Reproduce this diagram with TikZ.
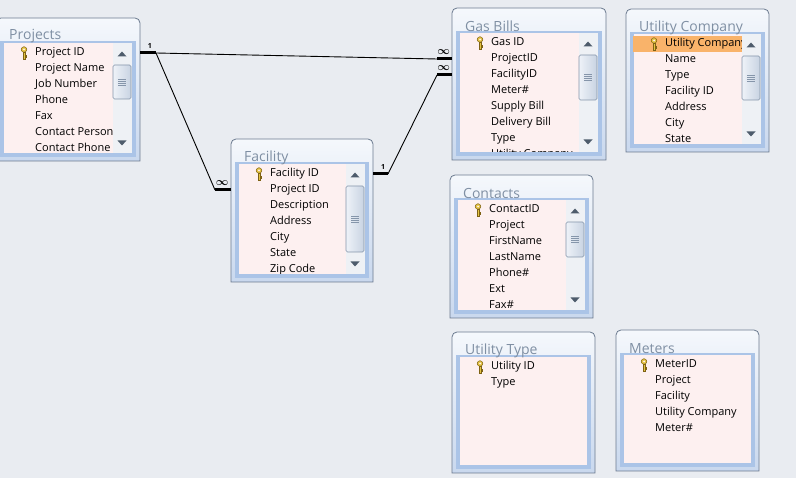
\documentclass[tikz,border=0pt]{standalone}
\usepackage{amsmath}
\usepackage{fontspec}
\setmainfont{Open Sans}
\usepackage{tikz}
\usetikzlibrary{calc}

\definecolor{deskbg}{HTML}{E9ECF1}
\definecolor{winedge}{HTML}{6B7A8F}
\definecolor{wintop}{HTML}{F5F8FC}
\definecolor{winbot}{HTML}{C9D8EE}
\definecolor{wininner}{HTML}{ABC4E7}
\definecolor{winpink}{HTML}{FDF0F0}
\definecolor{wintext}{HTML}{7F8FA3}
\definecolor{rowsel}{HTML}{F9B36A}
\definecolor{track}{HTML}{EEF1F5}
\definecolor{thumbA}{HTML}{EEF2F8}
\definecolor{thumbB}{HTML}{C8D3E2}
\definecolor{thumbedge}{HTML}{8595AA}
\definecolor{arrowgray}{HTML}{4E5C6C}
\definecolor{keygold}{HTML}{E6C443}
\definecolor{keyedge}{HTML}{7E6214}

\tikzset{
  winframe/.style={draw=winedge, line width=0.8pt, top color=wintop, bottom color=winbot},
  wintitle/.style={anchor=west, inner sep=0pt, text=wintext, font=\fontsize{14}{16}\selectfont},
  row/.style={anchor=west, inner sep=0pt, text height=8pt, text depth=2.5pt,
    font=\fontsize{11}{13}\selectfont},
  thumb/.style={draw=thumbedge, line width=0.6pt, rounded corners=1.5pt,
    left color=thumbA, right color=thumbB},
  grip/.style={draw=thumbedge, line width=0.5pt},
  scrollarrow/.style={fill=arrowgray},
  keyline/.style={draw=keyedge, fill=keygold, line width=0.5pt},
  rel/.style={draw=black, line width=0.9pt},
  relstub/.style={draw=black, line width=3pt},
  card/.style={inner sep=0pt, font=\fontsize{7}{7}\selectfont\bfseries},
  many/.style={inner sep=0pt, font=\fontsize{11}{11}\selectfont}
}

% table window: name, x0, y0, x1, y1, title, end of scroll thumb (0 = no scroll bar)
\newcommand{\accwin}[7]{%
  \coordinate (#1-nw) at (#2,#3);
  \coordinate (#1-se) at (#4,#5);
  \path[winframe] (#2,#5) -- (#2,#3+5) arc[start angle=180, end angle=270, radius=5]
    -- (#4-5,#3) arc[start angle=270, end angle=360, radius=5] -- (#4,#5) -- cycle;
  \fill[wininner] (#2+4,#3+23) rectangle (#4-4,#5-4);
  \fill[winpink] (#2+8,#3+25) rectangle (#4-8,#5-8);
  \node[wintitle] (#1-title) at (#2+13,#3+18.5) {#6};
  \ifnum#7>0
    \fill[track] (#4-27,#3+25) rectangle (#4-8,#5-8);
    \fill[scrollarrow] (#4-22.5,#3+38.5) -- (#4-13.5,#3+38.5) -- (#4-18,#3+33.5) -- cycle;
    \fill[scrollarrow] (#4-22.5,#5-20.5) -- (#4-13.5,#5-20.5) -- (#4-18,#5-15.5) -- cycle;
    \draw[thumb] (#4-27,#3+47) rectangle (#4-9,#3+#7);
    \foreach \g in {0,2,4,6}
      \draw[grip] (#4-22,{#3+(47+#7)/2+\g-3}) -- (#4-14,{#3+(47+#7)/2+\g-3});
  \fi
}

% field list: name, x0, y0, clip right, clip bottom, fields
\newcommand{\accrows}[6]{%
  \begin{scope}
    \clip (#2+8,#3+25) rectangle (#4,#5);
    \foreach \fld [count=\i] in {#6}
      \node[row] (#1-\i) at (#2+39,{#3+35+16*(\i-1)}) {\fld};
  \end{scope}
  % primary key
  \draw[keyline] (#2+28,#3+31.5) circle[radius=2.8pt];
  \fill[winpink] (#2+28,#3+31.5) circle[radius=1pt];
  \draw[keyline] (#2+27.2,#3+34.3) rectangle (#2+28.8,#3+41);
  \draw[keyline] (#2+28.8,#3+37.5) rectangle (#2+30.6,#3+38.9);
}

\begin{document}
\begin{tikzpicture}[x=1pt, y=-1pt]

    \useasboundingbox (0,0) rectangle (796,478);
    \clip (0,0) rectangle (796,478);
    \fill[deskbg] (0,0) rectangle (796,478);

    % Windows
    \accwin{proj}{-4}{18}{140}{161}{Projects}{81}
    \accwin{fac}{231}{139}{373}{282}{Facility}{113}
    \accwin{gas}{452}{8}{606}{160}{Gas Bills}{92}
    \accwin{uc}{626}{9}{769}{152}{Utility Company}{91}
    \accwin{cont}{450}{175}{593}{318}{Contacts}{82}
    \accwin{utype}{452}{332}{595}{473}{Utility Type}{0}
    \accwin{meter}{616}{330}{759}{471}{Meters}{0}

    % selected field
    \fill[rowsel] (633,36) rectangle (742,52);

    % Fields
    \accrows{proj}{-4}{18}{112}{153}{Project ID, Project Name, Job Number, Phone, Fax,
      Contact Person, Contact Phone}
    \accrows{fac}{231}{139}{345}{274}{Facility ID, Project ID, Description, Address,
      City, State, Zip Code}
    \accrows{gas}{452}{8}{578}{152}{Gas ID, ProjectID, FacilityID, Meter\#, Supply Bill,
      Delivery Bill, Type, Utility Company}
    \accrows{uc}{626}{9}{741}{144}{Utility Company, Name, Type, Facility ID, Address,
      City, State}
    \accrows{cont}{450}{175}{565}{310}{ContactID, Project, FirstName, LastName, Phone\#,
      Ext, Fax\#}
    \accrows{utype}{452}{332}{587}{465}{Utility ID, Type}
    \accrows{meter}{616}{330}{751}{463}{MeterID, Project, Facility, Utility Company, Meter\#}

    % Relationships
    \draw[relstub] (proj-se |- proj-1) -- ++(16,0) coordinate (proj-out)
        node[card, pos=0.62, above=3pt] (one-proj) {1};
    \draw[relstub] (gas-nw |- gas-2) -- ++(-15,0) coordinate (gas-in2)
        node[many, pos=0.55, above=2.5pt] (many-gas2) {$\boldsymbol{\infty}$};
    \draw[relstub] (gas-nw |- gas-3) -- ++(-15,0) coordinate (gas-in3)
        node[many, pos=0.55, above=2.5pt] (many-gas3) {$\boldsymbol{\infty}$};
    \draw[relstub] (fac-nw |- fac-2) -- ++(-16,0) coordinate (fac-in2)
        node[many, pos=0.55, above=2.5pt] (many-fac) {$\boldsymbol{\infty}$};
    \draw[relstub] (fac-se |- fac-1) -- ++(15,0) coordinate (fac-out)
        node[card, pos=0.67, above=3pt] (one-fac) {1};

    \draw[rel] (proj-out) -- (gas-in2);
    \draw[rel] (proj-out) -- (fac-in2);
    \draw[rel] (fac-out) -- (gas-in3);

\end{tikzpicture}
\end{document}
